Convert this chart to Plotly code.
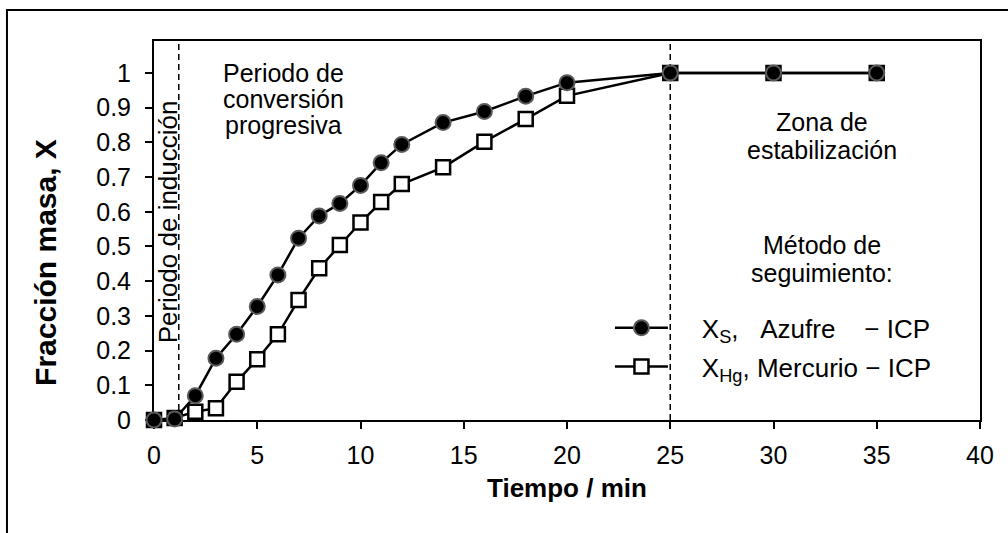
import plotly.graph_objects as go

# ---- data ----
tiempo = [0, 1, 2, 3, 4, 5, 6, 7, 8, 9, 10, 11, 12, 14, 16, 18, 20, 25, 30, 35]
x_azufre = [0, 0.003, 0.07, 0.178, 0.247, 0.327, 0.418, 0.524, 0.588, 0.624,
            0.676, 0.741, 0.794, 0.857, 0.889, 0.933, 0.972, 1, 1, 1]
x_mercurio = [0, 0.006, 0.024, 0.034, 0.11, 0.175, 0.247, 0.346, 0.437, 0.504,
              0.569, 0.628, 0.68, 0.728, 0.802, 0.867, 0.934, 1, 1, 1]
x_ticks = [0, 5, 10, 15, 20, 25, 30, 35, 40]
y_ticks = [0, 0.1, 0.2, 0.3, 0.4, 0.5, 0.6, 0.7, 0.8, 0.9, 1]
y_tick_labels = ["0", "0.1", "0.2", "0.3", "0.4", "0.5", "0.6", "0.7", "0.8", "0.9", "1"]
t_induccion = 1.2
t_estabilizacion = 25

FONT = "Liberation Sans, Arial, sans-serif"
FS = 25
NB = "\u00a0"

fig = go.Figure()
fig.add_trace(go.Scatter(
    x=tiempo, y=x_mercurio, mode="lines+markers",
    name=NB * 4 + "X<sub>Hg</sub>, Mercurio \u2212 ICP",
    line=dict(color="black", width=2.5),
    marker=dict(symbol="square", size=14, color="white",
                line=dict(color="black", width=2.5)),
    cliponaxis=False, legendrank=2, legendgroup="b"))
fig.add_trace(go.Scatter(
    x=tiempo, y=x_azufre, mode="lines+markers",
    name=NB * 4 + "X<sub>S</sub>," + NB * 3 + "Azufre" + NB * 4 + "\u2212 ICP",
    line=dict(color="black", width=2.5),
    marker=dict(symbol="circle", size=15, color="black",
                line=dict(color="#5a5a5a", width=2)),
    cliponaxis=False, legendrank=1, legendgroup="a"))

for t in (t_induccion, t_estabilizacion):
    fig.add_shape(type="line", xref="x", yref="paper", x0=t, x1=t, y0=0, y1=1,
                  line=dict(color="black", width=1.5, dash="6px,4px"), layer="below")

# outer chart frame
fig.add_shape(type="rect", xref="paper", yref="paper",
              x0=-0.178, x1=1.06, y0=-0.36, y1=1.082,
              line=dict(color="black", width=2))


def txt(s, x, y, size=FS, bold=False, **kw):
    fig.add_annotation(text=f"<b>{s}</b>" if bold else s, x=x, y=y,
                       showarrow=False, xanchor="center", yanchor="middle",
                       font=dict(family=FONT, size=size, color="black"), **kw)


# region labels (one annotation per text line)
txt("Periodo de", 6.25, 1.0)
txt("conversión", 6.25, 0.924)
txt("progresiva", 6.25, 0.849)
txt("Zona de", 32.35, 0.86)
txt("estabilización", 32.35, 0.778)
txt("Método de", 32.35, 0.505)
txt("seguimiento:", 32.35, 0.425)
txt("Periodo de inducción", 0.72, 0.572, size=26, textangle=-90)

# axis titles
txt("Tiempo / min", 0.5, -0.18, size=26, bold=True, xref="paper", yref="paper")
txt("Fracción masa, X", -0.1308, 0.417, size=30, bold=True, xref="paper",
    yref="paper", textangle=-90)

fig.update_layout(
    width=1008, height=533,
    margin=dict(l=154, r=28, t=41, b=113),
    paper_bgcolor="white", plot_bgcolor="white",
    font=dict(family=FONT, size=FS, color="black"),
    showlegend=True,
    legend=dict(x=0.552, y=0.305, xanchor="left", yanchor="top",
                bgcolor="rgba(0,0,0,0)", itemwidth=53,
                traceorder="grouped", tracegroupgap=2,
                font=dict(family=FONT, size=26, color="black")),
    xaxis=dict(range=[0, 40], tickvals=x_ticks, ticks="outside", ticklen=7,
               tickwidth=2, tickcolor="black", showline=True, linewidth=2,
               linecolor="black", mirror=True, showgrid=False, zeroline=False,
               layer="below traces", ticklabelstandoff=5,
               tickfont=dict(family=FONT, size=FS)),
    yaxis=dict(range=[0, 1.092], tickvals=y_ticks, ticktext=y_tick_labels,
               ticks="outside", ticklen=7, tickwidth=2, tickcolor="black",
               showline=True, linewidth=2, linecolor="black", mirror=True,
               showgrid=False, zeroline=False, layer="below traces",
               ticklabelstandoff=9,
               tickfont=dict(family=FONT, size=FS)),
)

fig.write_html("out.html")
